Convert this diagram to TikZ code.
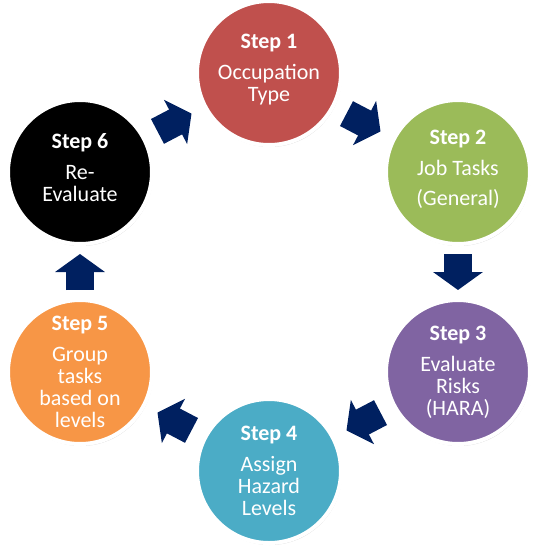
\documentclass[tikz,border=0pt]{standalone}
\usepackage{fontspec}
\setmainfont{Carlito}
\usetikzlibrary{arrows.meta,shapes,shadows,positioning,calc}

\definecolor{stepred}{HTML}{C0504D}
\definecolor{stepgreen}{HTML}{9BBB59}
\definecolor{steppurple}{HTML}{8064A2}
\definecolor{stepblue}{HTML}{4BACC6}
\definecolor{steporange}{HTML}{F79646}
\definecolor{navy}{HTML}{002060}

\begin{document}
\begin{tikzpicture}[x=1pt, y=-1pt, node distance=99pt and 189pt, on grid,
    every node/.style={font=\fontsize{22}{22}\selectfont, text=white, align=center},
    stepnode/.style={circle, draw=white, line width=4pt, minimum size=144pt, inner sep=0pt,
      drop shadow={opacity=0.3, shadow xshift=1pt, shadow yshift=-2pt}},
    flow/.style={draw=navy, line width=28pt, -{Triangle[width=49pt, length=18pt]}}]
      \useasboundingbox (0,0) rectangle (538,550);

      \node[stepnode, fill=stepred] (1) at (269,73) {\textbf{Step 1}\\[9pt] Occupation\\ Type\\[-12pt]\mbox{}};
      \node[stepnode, fill=stepgreen] (2) [below right=of 1] {\textbf{Step 2}\\[9pt] Job Tasks\\[8pt] (General)\\[-14pt]\mbox{}};
      \node[stepnode, fill=steppurple] (3) [below=200pt of 2] {\textbf{Step 3}\\[9pt] Evaluate\\ Risks\\ (HARA)};
      \node[stepnode, fill=stepblue] (4) [below left=of 3] {\textbf{Step 4}\\[9pt] Assign\\ Hazard\\ Levels};
      \node[stepnode, fill=steporange] (5) [above left=of 4] {\textbf{Step 5}\\[9pt] Group\\ tasks\\ based on\\ levels};
      \node[stepnode, fill=black] (6) [above=200pt of 5] {\textbf{Step 6}\\[9pt] Re-\\ Evaluate\\[-12pt]\mbox{}};

      \draw[flow] ($(1)!.41!(2)$) -- ($(1)!.59!(2)$);
      \draw[flow] ($(2)!.41!(3)$) -- ($(2)!.59!(3)$);
      \draw[flow] ($(3)!.41!(4)$) -- ($(3)!.59!(4)$);
      \draw[flow] ($(4)!.41!(5)$) -- ($(4)!.59!(5)$);
      \draw[flow] ($(5)!.41!(6)$) -- ($(5)!.59!(6)$);
      \draw[flow] ($(6)!.41!(1)$) -- ($(6)!.59!(1)$);
    \end{tikzpicture}
\end{document}
